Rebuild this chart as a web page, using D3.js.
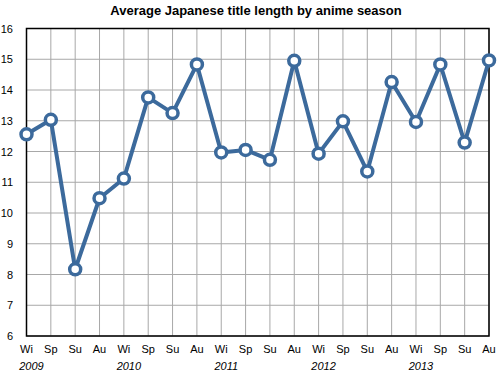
<!DOCTYPE html>
<html>
    <head>
        <meta charset="UTF-8">
        <script src="https://d3js.org/d3.v7.min.js"></script>
        <style>
            body { margin: 0; background: white; font-family: "Liberation Sans", Arial, Helvetica, sans-serif; }
            .grid line { stroke: #a8a8a8; stroke-width: 1px; }
            .frame { fill: none; stroke: black; stroke-width: 1.5px; }
            .tick-label { font-size: 11px; fill: black; }
            .year-label { font-size: 11px; font-style: italic; fill: black; }
            .title { font-size: 13px; font-weight: bold; }
            .line { fill: none; stroke: #3c6a9c; stroke-width: 4px; stroke-linejoin: round; }
            .dot { fill: white; stroke: #3c6a9c; stroke-width: 3.5px; }
        </style>
    </head>
    <body>
        <svg width="500" height="375"></svg>
        <script>
            const seasons = ["Wi", "Sp", "Su", "Au"];
            const years = ["2009", "2010", "2011", "2012", "2013"];
            const titleLength = [12.56, 13.03, 8.17, 10.48, 11.12, 13.76, 13.25, 14.83,
                                 11.97, 12.05, 11.73, 14.95, 11.93, 12.98, 11.35, 14.26,
                                 12.96, 14.83, 12.29, 14.96];
            const yTicks = [6, 7, 8, 9, 10, 11, 12, 13, 14, 15, 16];

            let data = titleLength.map((v, i) => ({
                idx: i,
                season: seasons[i % 4],
                year: years[Math.floor(i / 4)],
                value: v
            }));

            const plotLeft = 26.5, plotRight = 489, plotTop = 28.5, plotBottom = 336;

            const x = d3.scaleLinear().domain([0, data.length - 1]).range([plotLeft, plotRight]);
            const y = d3.scaleLinear().domain([6, 16]).range([plotBottom, plotTop]);

            const svg = d3.select("svg");

            svg.append("text")
                .attr("class", "title")
                .attr("x", 256)
                .attr("y", 15)
                .attr("text-anchor", "middle")
                .text("Average Japanese title length by anime season");

            // grid
            let grid = svg.append("g").attr("class", "grid");
            grid.selectAll(".h").data(yTicks).join("line")
                .attr("class", "h")
                .attr("x1", plotLeft).attr("x2", plotRight)
                .attr("y1", d => y(d)).attr("y2", d => y(d));
            grid.selectAll(".v").data(data).join("line")
                .attr("class", "v")
                .attr("x1", d => x(d.idx)).attr("x2", d => x(d.idx))
                .attr("y1", plotTop).attr("y2", plotBottom);

            svg.append("rect")
                .attr("class", "frame")
                .attr("x", plotLeft).attr("y", plotTop)
                .attr("width", plotRight - plotLeft).attr("height", plotBottom - plotTop);

            // y labels
            svg.append("g").selectAll("text").data(yTicks).join("text")
                .attr("class", "tick-label")
                .attr("x", 13)
                .attr("y", d => y(d) + 4)
                .attr("text-anchor", "end")
                .text(d => d);

            // x labels
            svg.append("g").selectAll("text").data(data).join("text")
                .attr("class", "tick-label")
                .attr("x", d => x(d.idx))
                .attr("y", 353)
                .attr("text-anchor", "middle")
                .text(d => d.season);

            svg.append("g").selectAll("text").data(data.filter(d => d.season == "Wi")).join("text")
                .attr("class", "year-label")
                .attr("x", d => x(d.idx) + 5)
                .attr("y", 370)
                .attr("text-anchor", "middle")
                .text(d => d.year);

            // line + dots
            svg.append("path")
                .datum(data)
                .attr("class", "line")
                .attr("d", d3.line().x(d => x(d.idx)).y(d => y(d.value)));

            svg.append("g").selectAll("circle").data(data).join("circle")
                .attr("class", "dot")
                .attr("cx", d => x(d.idx))
                .attr("cy", d => y(d.value))
                .attr("r", 5.5);
        </script>
    </body>
</html>
